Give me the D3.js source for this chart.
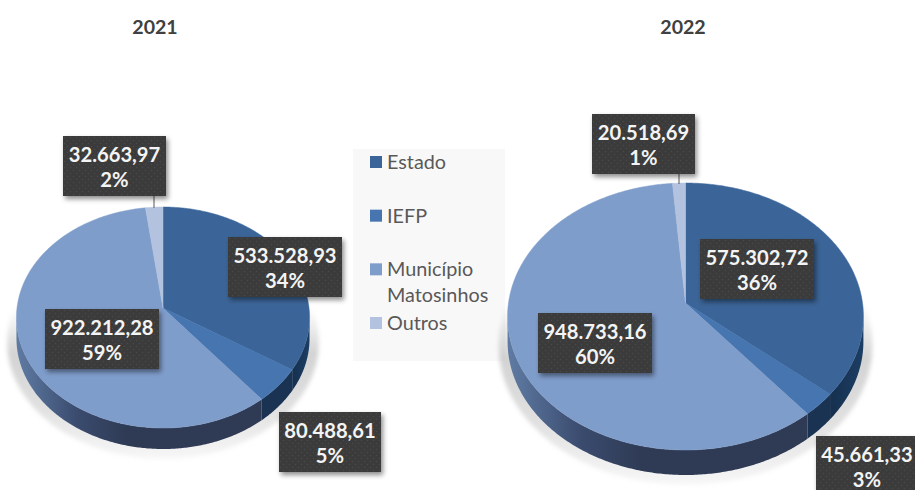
<!DOCTYPE html>
<html>
<head>
<meta charset="utf-8">
<script src="https://cdn.jsdelivr.net/npm/d3@7"></script>
<style>
html, body { margin: 0; padding: 0; background: #fff; }
svg { display: block; }
text { font-family: Lato, "Open Sans", sans-serif; }
</style>
</head>
<body>
<div id="chart"></div>
<script>
var categories = ["Estado", "IEFP", "Município Matosinhos", "Outros"];
var values2021 = [533528.93, 80488.61, 922212.28, 32663.97];
var values2022 = [575302.72, 45661.33, 948733.16, 20518.69];
var colors = ["#3b6598", "#4675af", "#7f9dcb", "#b3c3df"];
var rimColors = [["#1c3d63", "#16304e"], ["#1a3353", "#1a3353"], ["#2f3b55", "#5f7ba3"], ["#b3c3df", "#b3c3df"]];

var width = 915, height = 490;
var ptLocale = d3.formatLocale({decimal: ",", thousands: ".", grouping: [3], currency: ["", ""]});
var fmtValue = ptLocale.format(",.2f");
var fmtPct = d3.format(".0%");

var svg = d3.select("#chart").append("svg").attr("width", width).attr("height", height);
var defs = svg.append("defs");

// dotted fill of the data labels
var dots = defs.append("pattern").attr("id", "dots").attr("patternUnits", "userSpaceOnUse")
	.attr("width", 6).attr("height", 6);
dots.append("rect").attr("width", 6).attr("height", 6).attr("fill", "#3a3a3a");
dots.append("circle").attr("cx", 1.5).attr("cy", 1.5).attr("r", 0.8).attr("fill", "#484848");
dots.append("circle").attr("cx", 4.5).attr("cy", 4.5).attr("r", 0.8).attr("fill", "#484848");

var boxShadow = defs.append("filter").attr("id", "boxShadow")
	.attr("x", "-20%").attr("y", "-20%").attr("width", "140%").attr("height", "150%");
boxShadow.append("feDropShadow").attr("dx", 2).attr("dy", 3).attr("stdDeviation", 2.5)
	.attr("flood-color", "#000").attr("flood-opacity", 0.45);

defs.append("filter").attr("id", "soft").attr("x", "-10%").attr("y", "-10%").attr("width", "120%").attr("height", "120%")
	.append("feGaussianBlur").attr("stdDeviation", 2);

// legend goes first, the right pie shadow falls over it
var legend = svg.append("g");
legend.append("rect").attr("x", 353).attr("y", 149).attr("width", 152).attr("height", 212).attr("fill", "#f8f8f8");
var legendY = d3.scalePoint().domain(categories).range([162, 323]);
categories.forEach(function(c, i) {
	var y = legendY(c);
	legend.append("rect").attr("x", 370).attr("y", y - 6).attr("width", 12).attr("height", 12).attr("fill", colors[i]);
	var lines = c.split(" ");
	lines.forEach(function(l, j) {
		legend.append("text").attr("x", 387).attr("y", y + 7 + j * 26)
			.attr("font-size", 19.8).attr("fill", "#595959").text(l);
	});
});

function drawPie(id, year, values, cfg) {
	var g = svg.append("g");
	var total = d3.sum(values);
	var slices = d3.pie().sort(null)(values);

	// perspective: the apex sits above the centre of the visible ellipse
	var c = (cfg.top + cfg.bottom - 2 * cfg.apexY) / (cfg.top - cfg.bottom);
	var a = cfg.apexY - cfg.top + cfg.top * c;
	function project(angle, r) {
		var x = r * Math.sin(angle), y = -r * Math.cos(angle);
		var w = c * y + 1;
		return [cfg.cx + x * cfg.R / w, (a * y + cfg.apexY) / w];
	}
	function arcPoints(start, end, step) {
		var n = Math.max(2, Math.ceil((end - start) / (step || 0.01)));
		return d3.range(n + 1).map(function(i) { return project(start + (end - start) * i / n, 1); });
	}
	var line = d3.line();

	// soft shadow under the pie
	var sg = defs.append("linearGradient").attr("id", "shadow" + id)
		.attr("gradientUnits", "userSpaceOnUse").attr("x1", 0).attr("x2", 0)
		.attr("y1", cfg.apexY).attr("y2", cfg.bottom + cfg.depth + 12);
	sg.append("stop").attr("offset", 0).attr("stop-color", "#bbb").attr("stop-opacity", 0);
	sg.append("stop").attr("offset", 0.3).attr("stop-color", "#bbb").attr("stop-opacity", 0.65);
	sg.append("stop").attr("offset", 0.65).attr("stop-color", "#bbb").attr("stop-opacity", 0.45);
	sg.append("stop").attr("offset", 1).attr("stop-color", "#bbb").attr("stop-opacity", 0.1);
	g.append("ellipse")
		.attr("cx", cfg.cx).attr("cy", (cfg.top + cfg.bottom) / 2 + cfg.depth + 4)
		.attr("rx", cfg.R + 10).attr("ry", (cfg.bottom - cfg.top) / 2 + 6)
		.attr("fill", "url(#shadow" + id + ")").attr("filter", "url(#soft)");

	// visible side wall, from the rightmost to the leftmost point of the rim
	var frontStart = Math.acos(c), frontEnd = 2 * Math.PI - frontStart;
	slices.forEach(function(s, i) {
		var start = Math.max(s.startAngle, frontStart), end = Math.min(s.endAngle, frontEnd);
		if (end <= start) return;
		var rim = arcPoints(start, end);
		var low = rim.slice().reverse().map(function(p) { return [p[0], p[1] + cfg.depth]; });
		var xs = rim.map(function(p) { return p[0]; });
		var grad = defs.append("linearGradient").attr("id", "rim" + id + i)
			.attr("gradientUnits", "userSpaceOnUse").attr("x1", cfg.cx).attr("x2", cfg.cx - cfg.R).attr("y1", 0).attr("y2", 0);
		if (d3.min(xs) < cfg.cx) {
			grad.attr("x1", cfg.cx - cfg.R * 0.25);
			grad.append("stop").attr("offset", 0).attr("stop-color", rimColors[i][0]);
			grad.append("stop").attr("offset", 0.45).attr("stop-color", "#3a4b6e");
			grad.append("stop").attr("offset", 1).attr("stop-color", rimColors[i][1]);
		} else {
			grad.attr("x1", cfg.cx + cfg.R).attr("x2", d3.min(xs));
			grad.append("stop").attr("offset", 0).attr("stop-color", rimColors[i][0]);
			grad.append("stop").attr("offset", 1).attr("stop-color", rimColors[i][1]);
		}
		g.append("path").attr("d", line(rim.concat(low)) + "Z").attr("fill", "url(#rim" + id + i + ")");
	});

	// top face
	g.selectAll("path.slice").data(slices).enter().append("path")
		.attr("class", "slice")
		.attr("fill", function(d, i) { return colors[i]; })
		.attr("stroke", function(d, i) { return colors[i]; })
		.attr("stroke-width", 0.5)
		.attr("d", function(d) {
			return line([[cfg.cx, cfg.apexY]].concat(arcPoints(d.startAngle, d.endAngle))) + "Z";
		});

	// title
	svg.append("text").attr("x", cfg.titleX).attr("y", 34).attr("text-anchor", "middle")
		.attr("font-size", 19.6).attr("font-weight", 700).attr("fill", "#404040").text(year);

	// leader of the small slice
	svg.append("line").attr("x1", cfg.leaderX).attr("x2", cfg.leaderX)
		.attr("y1", cfg.boxes[3][1] + 60).attr("y2", cfg.top + 1)
		.attr("stroke", "#595959").attr("stroke-width", 1);

	// data labels
	values.forEach(function(v, i) {
		var b = cfg.boxes[i];
		var lab = svg.append("g").attr("transform", "translate(" + b[0] + "," + b[1] + ")");
		lab.append("rect").attr("width", b[2]).attr("height", 60).attr("fill", "url(#dots)").attr("filter", "url(#boxShadow)");
		[fmtValue(v), fmtPct(v / total)].forEach(function(t, j) {
			lab.append("text").attr("x", b[2] / 2).attr("y", 25.5 + j * 25.5).attr("text-anchor", "middle")
				.attr("font-size", 20.2).attr("font-weight", 700).attr("fill", "#f4f4f4").text(t);
		});
	});
}

drawPie("a", "2021", values2021, {
	cx: 163, R: 146, top: 207, bottom: 428, apexY: 308, depth: 21, titleX: 155, leaderX: 154,
	boxes: [[228, 237, 114], [279, 412, 102], [45, 309, 114], [63, 136, 103]]
});
drawPie("b", "2022", values2022, {
	cx: 685.5, R: 177, top: 183, bottom: 450, apexY: 303, depth: 25, titleX: 683, leaderX: 679,
	boxes: [[700, 239, 114], [816, 436, 102], [538, 313, 114], [592, 114, 103]]
});
</script>
</body>
</html>
